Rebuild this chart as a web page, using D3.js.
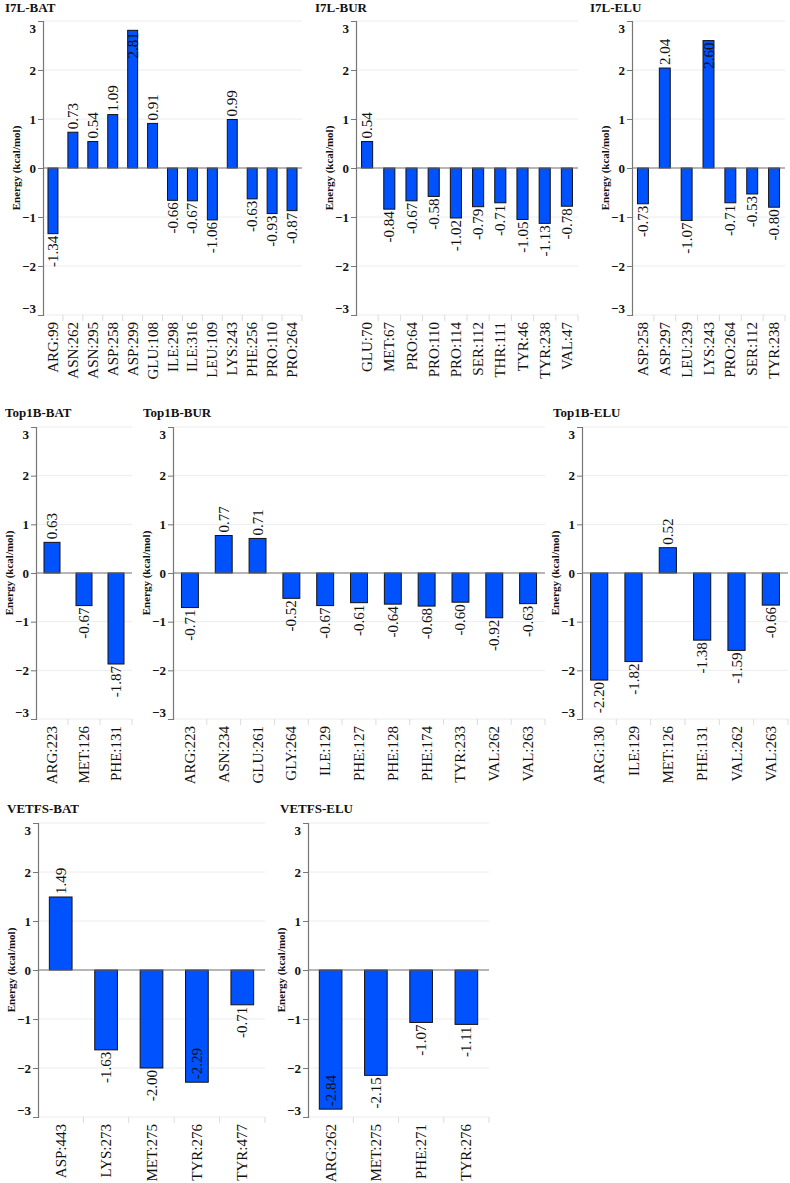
<!DOCTYPE html>
<html>
<head>
<meta charset="utf-8">
<script src="https://cdn.jsdelivr.net/npm/d3@7"></script>
<style>
  html, body { margin: 0; padding: 0; background: #fff; }
  svg { display: block; }
</style>
</head>
<body>
<svg id="chart" width="790" height="1183"></svg>
<script>
// ---------------- DATA ----------------
const i7lBatCategories = ["ARG:99","ASN:262","ASN:295","ASP:258","ASP:299","GLU:108","ILE:298","ILE:316","LEU:109","LYS:243","PHE:256","PRO:110","PRO:264"];
const i7lBatValues     = [-1.34, 0.73, 0.54, 1.09, 2.81, 0.91, -0.66, -0.67, -1.06, 0.99, -0.63, -0.93, -0.87];

const i7lBurCategories = ["GLU:70","MET:67","PRO:64","PRO:110","PRO:114","SER:112","THR:111","TYR:46","TYR:238","VAL:47"];
const i7lBurValues     = [0.54, -0.84, -0.67, -0.58, -1.02, -0.79, -0.71, -1.05, -1.13, -0.78];

const i7lEluCategories = ["ASP:258","ASP:297","LEU:239","LYS:243","PRO:264","SER:112","TYR:238"];
const i7lEluValues     = [-0.73, 2.04, -1.07, 2.60, -0.71, -0.53, -0.80];

const top1bBatCategories = ["ARG:223","MET:126","PHE:131"];
const top1bBatValues     = [0.63, -0.67, -1.87];

const top1bBurCategories = ["ARG:223","ASN:234","GLU:261","GLY:264","ILE:129","PHE:127","PHE:128","PHE:174","TYR:233","VAL:262","VAL:263"];
const top1bBurValues     = [-0.71, 0.77, 0.71, -0.52, -0.67, -0.61, -0.64, -0.68, -0.60, -0.92, -0.63];

const top1bEluCategories = ["ARG:130","ILE:129","MET:126","PHE:131","VAL:262","VAL:263"];
const top1bEluValues     = [-2.20, -1.82, 0.52, -1.38, -1.59, -0.66];

const vetfsBatCategories = ["ASP:443","LYS:273","MET:275","TYR:276","TYR:477"];
const vetfsBatValues     = [1.49, -1.63, -2.00, -2.29, -0.71];

const vetfsEluCategories = ["ARG:262","MET:275","PHE:271","TYR:276"];
const vetfsEluValues     = [-2.84, -2.15, -1.07, -1.11];

const yTicks = [-3, -2, -1, 0, 1, 2, 3];
const yDomain = [-3, 3];
const yAxisTitle = "Energy (kcal/mol)";

// ---------------- LAYOUT ----------------
const panels = [
  {title: "I7L-BAT",   cats: i7lBatCategories,   vals: i7lBatValues,   x0: 43,  x1: 302, top: 21,  bottom: 315,  titleX: 5,   titleY: 12},
  {title: "I7L-BUR",   cats: i7lBurCategories,   vals: i7lBurValues,   x0: 356, x1: 578, top: 21,  bottom: 315,  titleX: 315, titleY: 12},
  {title: "I7L-ELU",   cats: i7lEluCategories,   vals: i7lEluValues,   x0: 632, x1: 785, top: 21,  bottom: 315,  titleX: 590, titleY: 12},
  {title: "Top1B-BAT", cats: top1bBatCategories, vals: top1bBatValues, x0: 36,  x1: 132, top: 427, bottom: 719,  titleX: 5,   titleY: 417},
  {title: "Top1B-BUR", cats: top1bBurCategories, vals: top1bBurValues, x0: 173, x1: 545, top: 427, bottom: 719,  titleX: 143, titleY: 417},
  {title: "Top1B-ELU", cats: top1bEluCategories, vals: top1bEluValues, x0: 582, x1: 788, top: 427, bottom: 719,  titleX: 553, titleY: 417},
  {title: "VETFS-BAT", cats: vetfsBatCategories, vals: vetfsBatValues, x0: 38,  x1: 265, top: 823, bottom: 1117, titleX: 7,   titleY: 813},
  {title: "VETFS-ELU", cats: vetfsEluCategories, vals: vetfsEluValues, x0: 308, x1: 489, top: 823, bottom: 1117, titleX: 280, titleY: 813}
];

const FONT = "'Liberation Serif', 'Times New Roman', Times, serif";
const BAR_COLOR = "#0052ff";

const svg = d3.select("#chart");

panels.forEach(p => {
  const g = svg.append("g");
  const x = d3.scaleBand().domain(p.cats).range([p.x0, p.x1]).paddingInner(0.5).paddingOuter(0.25);
  const y = d3.scaleLinear().domain(yDomain).range([p.bottom, p.top]);

  // title
  g.append("text")
    .attr("x", p.titleX).attr("y", p.titleY)
    .attr("font-family", FONT).attr("font-weight", "bold").attr("font-size", 13)
    .attr("fill", "#111")
    .text(p.title);

  // gridlines
  g.append("g").selectAll("line").data(yTicks.filter(t => t !== 0)).join("line")
    .attr("x1", p.x0).attr("x2", p.x1)
    .attr("y1", d => y(d)).attr("y2", d => y(d))
    .attr("stroke", "#ececec").attr("stroke-width", 1);

  // x boundary ticks at bottom
  const bounds = p.cats.map(c => x(c) - x.step() * x.paddingInner() / 2).concat([p.x1]);
  g.append("g").selectAll("line").data(bounds.slice(1)).join("line")
    .attr("x1", d => d).attr("x2", d => d)
    .attr("y1", p.bottom).attr("y2", p.bottom + 6)
    .attr("stroke", "#dcdcdc").attr("stroke-width", 1);

  // bars
  g.append("g").selectAll("rect").data(p.vals).join("rect")
    .attr("x", (d, i) => x(p.cats[i]))
    .attr("width", x.bandwidth())
    .attr("y", d => Math.min(y(d), y(0)))
    .attr("height", d => Math.abs(y(d) - y(0)))
    .attr("fill", BAR_COLOR)
    .attr("stroke", "#111").attr("stroke-width", 1);

  // zero line
  g.append("line")
    .attr("x1", p.x0).attr("x2", p.x1)
    .attr("y1", y(0)).attr("y2", y(0))
    .attr("stroke", "#6e6e6e").attr("stroke-width", 1.2);

  // y axis
  const yAxis = d3.axisLeft(y).tickValues(yTicks).tickSize(5).tickFormat(d3.format("d"));
  const ax = g.append("g").attr("transform", `translate(${p.x0},0)`).call(yAxis);
  ax.select(".domain").attr("stroke", "#777").attr("stroke-width", 1.2);
  ax.selectAll(".tick line").attr("stroke", "#777");
  ax.selectAll(".tick text")
    .attr("font-family", FONT).attr("font-weight", "bold").attr("font-size", 13)
    .attr("fill", "#111").attr("x", -7)
    .attr("dy", d => d === 3 ? "0.85em" : (d === -3 ? "-0.2em" : "0.32em"));

  // y axis title
  const yc = (p.top + p.bottom) / 2;
  g.append("text")
    .attr("transform", `translate(${p.x0 - 23},${yc}) rotate(-90)`)
    .attr("text-anchor", "middle")
    .attr("font-family", FONT).attr("font-weight", "bold").attr("font-size", 11)
    .attr("fill", "#111")
    .text(yAxisTitle);

  // category labels
  g.append("g").selectAll("text").data(p.cats).join("text")
    .attr("transform", d => `translate(${x(d) + x.bandwidth() / 2 + 5},${p.bottom + 7}) rotate(-90)`)
    .attr("text-anchor", "end")
    .attr("font-family", FONT).attr("font-size", 15)
    .attr("fill", "#111")
    .text(d => d);

  // value labels
  g.append("g").selectAll("text").data(p.vals).join("text")
    .attr("font-family", FONT).attr("font-size", 15)
    .attr("fill", "#111")
    .text(d => d.toFixed(2))
    .each(function(d, i) {
      const t = d3.select(this);
      const len = this.getComputedTextLength();
      const cx = x(p.cats[i]) + x.bandwidth() / 2 + 5;
      const end = y(d);
      let ty, anchor;
      if (d >= 0) {
        if (end - 3 - len < p.top + 4) { ty = end + 2; anchor = "end"; }
        else { ty = end - 3; anchor = "start"; }
      } else {
        if (end + 2 + len > p.bottom - 4) { ty = end - 3; anchor = "start"; }
        else { ty = end + 2; anchor = "end"; }
      }
      t.attr("text-anchor", anchor)
       .attr("transform", `translate(${cx},${ty}) rotate(-90)`);
    });
});
</script>
</body>
</html>
